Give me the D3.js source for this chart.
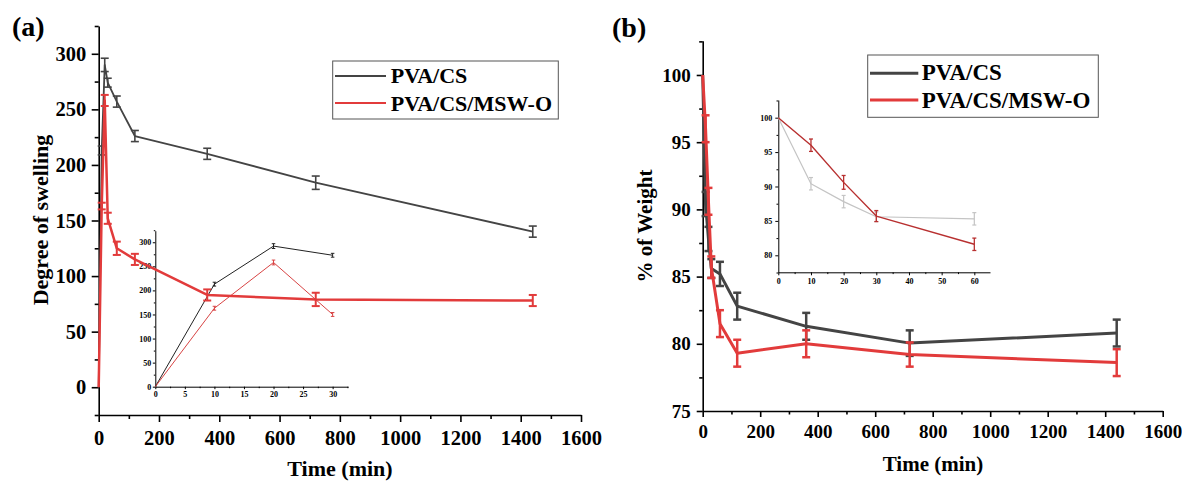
<!DOCTYPE html>
<html lang="en">
<head>
<meta charset="UTF-8">
<title>Swelling and weight loss</title>
<script src="https://d3js.org/d3.v7.min.js"></script>
<style>
  body { margin: 0; background: #fff; }
  svg { display: block; font-family: "Liberation Serif", "Times New Roman", serif; font-weight: bold; }
  .axis path, .axis line { stroke: #000; }
  .axis text { fill: #000; font-family: "Liberation Serif", serif; font-weight: bold; }
</style>
</head>
<body>
<svg width="1182" height="481"></svg>
<script>
// sampling times (min)
const timeMain = [0, 10, 20, 30, 60, 120, 360, 720, 1440];
const timeInsetA = [0, 10, 20, 30];
const timeInsetB = [0, 10, 20, 30, 60];

const seriesNames = ["PVA/CS", "PVA/CS/MSW-O"];

// (a) degree of swelling
const swellPvaCs = [0, 213, 290, 274, 257, 226, 210, 184, 140];
const swellPvaCsErr = [0, 4, 6, 4, 5, 5, 5, 6, 5];
const swellMsw = [0, 163, 258, 152, 125, 115, 83, 79, 78];
const swellMswErr = [0, 3, 5, 5, 6, 5, 5, 6, 5];
const insetSwellPvaCs = [0, 213, 292, 273];
const insetSwellPvaCsErr = [0, 4, 5, 4];
const insetSwellMsw = [0, 163, 258, 150];
const insetSwellMswErr = [0, 4, 5, 4];

// (b) % of weight
const weightPvaCs = [100, 90.4, 87.8, 85.6, 85.2, 82.8, 81.3, 80.05, 80.8];
const weightPvaCsErr = [0, 0.9, 0.9, 0.7, 0.9, 1, 1, 0.95, 1];
const weightMsw = [100, 96, 90.6, 85.7, 81.5, 79.3, 80.0, 79.2, 78.6];
const weightMswErr = [0, 1, 1, 0.8, 1, 1, 1, 0.9, 1];
const insetWeightPvaCs = [100, 90.4, 87.8, 85.6, 85.3];
const insetWeightPvaCsErr = [0, 0.9, 0.9, 0.7, 0.9];
const insetWeightMsw = [100, 96, 90.6, 85.7, 81.6];
const insetWeightMswErr = [0, 0.9, 1, 0.8, 0.9];

// tick values
const timeTicks = d3.range(0, 1601, 200);
const timeMinor = d3.range(100, 1600, 200);
const swellTicks = d3.range(0, 301, 50);
const swellMinor = [-25, 25, 75, 125, 175, 225, 275, 325];
const insetATimeTicks = d3.range(0, 31, 5);
const insetATimeMinor = d3.range(2.5, 33, 5);
const weightTicks = [75, 80, 85, 90, 95, 100];
const weightMinor = [77.5, 82.5, 87.5, 92.5, 97.5, 102.5];
const insetBTimeTicks = d3.range(0, 61, 10);
const insetBTimeMinor = d3.range(5, 60, 10);
const insetBWeightTicks = [80, 85, 90, 95, 100];
const insetBWeightMinor = [77.5, 82.5, 87.5, 92.5, 97.5, 102.5];

const dark = "#444";
const red = "#e23b3b";

const svg = d3.select("svg");
svg.append("rect").attr("width", 1182).attr("height", 481).attr("fill", "#fff");

function zip(ts, vs, es) {
    return ts.map((t, i) => ({ t: t, v: vs[i], e: es[i] }));
}

function drawAxes(x, y, o) {
    const x0 = x.range()[0], y0 = y.range()[0];
    const gx = svg.append("g").attr("class", "axis")
        .attr("transform", `translate(0,${y0})`)
        .call(d3.axisBottom(x).tickValues(o.xTicks).tickSize(o.major).tickSizeOuter(0)
            .tickPadding(o.xPad).tickFormat(d3.format("d")));
    gx.selectAll("text").style("font-size", o.font + "px");
    const gxm = svg.append("g").attr("class", "axis")
        .attr("transform", `translate(0,${y0})`)
        .call(d3.axisBottom(x).tickValues(o.xMinor).tickSize(o.minor).tickFormat(""));
    gxm.select(".domain").remove();

    const gy = svg.append("g").attr("class", "axis")
        .attr("transform", `translate(${x0},0)`)
        .call(d3.axisLeft(y).tickValues(o.yTicks).tickSize(o.major).tickSizeOuter(0)
            .tickPadding(o.yPad).tickFormat(d3.format("d")));
    gy.selectAll("text").style("font-size", o.font + "px");
    const gym = svg.append("g").attr("class", "axis")
        .attr("transform", `translate(${x0},0)`)
        .call(d3.axisLeft(y).tickValues(o.yMinor).tickSize(o.minor).tickFormat(""));
    gym.select(".domain").remove();

    [gx, gxm, gy, gym].forEach(g => g.selectAll("path, line").attr("stroke-width", o.stroke));
}

function drawSeries(x, y, pts, color, lw, capW, capLw) {
    svg.append("path")
        .datum(pts)
        .attr("fill", "none")
        .attr("stroke", color)
        .attr("stroke-width", lw)
        .attr("stroke-linejoin", "round")
        .attr("d", d3.line().x(d => x(d.t)).y(d => y(d.v)));
    const eb = svg.append("g").attr("stroke", color).attr("stroke-width", capLw);
    pts.filter(d => d.e > 0).forEach(d => {
        const cx = x(d.t);
        eb.append("line").attr("x1", cx).attr("x2", cx).attr("y1", y(d.v - d.e)).attr("y2", y(d.v + d.e));
        eb.append("line").attr("x1", cx - capW / 2).attr("x2", cx + capW / 2).attr("y1", y(d.v - d.e)).attr("y2", y(d.v - d.e));
        eb.append("line").attr("x1", cx - capW / 2).attr("x2", cx + capW / 2).attr("y1", y(d.v + d.e)).attr("y2", y(d.v + d.e));
    });
}

function drawLegend(bx, by, bw, bh, rows, colors, lx1, lx2, tx, lw, fs) {
    svg.append("rect").attr("x", bx).attr("y", by).attr("width", bw).attr("height", bh)
        .attr("fill", "#fff").attr("stroke", "#555").attr("stroke-width", 1);
    rows.forEach((r, i) => {
        svg.append("line").attr("x1", lx1).attr("x2", lx2).attr("y1", r.ly).attr("y2", r.ly)
            .attr("stroke", colors[i]).attr("stroke-width", lw);
        svg.append("text").attr("x", tx).attr("y", r.base).style("font-size", fs + "px")
            .text(seriesNames[i]);
    });
}

// ---------- panel (a) ----------
const xA = d3.scaleLinear().domain([0, 1600]).range([98.7, 581]);
const yA = d3.scaleLinear().domain([-25, 325]).range([415, 26]);
const xAi = d3.scaleLinear().domain([0, 32.6]).range([155.3, 348]);
const yAi = d3.scaleLinear().domain([0, 324]).range([386.7, 230.7]);

drawAxes(xAi, yAi, { xTicks: insetATimeTicks, xMinor: insetATimeMinor, yTicks: swellTicks, yMinor: swellMinor.filter(v => v > 0),
    major: 2.5, minor: 1.5, font: 8, xPad: 2, yPad: 1.5, stroke: 1 });
drawSeries(xAi, yAi, zip(timeInsetA, insetSwellPvaCs, insetSwellPvaCsErr), "#222", 1, 3.5, 1);
drawSeries(xAi, yAi, zip(timeInsetA, insetSwellMsw, insetSwellMswErr), "#d84444", 1, 3.5, 1);

drawAxes(xA, yA, { xTicks: timeTicks, xMinor: timeMinor, yTicks: swellTicks, yMinor: swellMinor,
    major: 7, minor: 4, font: 20.5, xPad: 8, yPad: 5.5, stroke: 1.6 });
drawSeries(xA, yA, zip(timeMain, swellPvaCs, swellPvaCsErr), dark, 1.8, 8, 1.6);
drawSeries(xA, yA, zip(timeMain, swellMsw, swellMswErr), red, 2.5, 8, 2);

drawLegend(332.7, 61, 225.6, 58, [{ ly: 76, base: 83.3 }, { ly: 103, base: 111 }], [dark, red],
    335, 386, 390.7, 2, 22);

svg.append("text").attr("x", 12).attr("y", 35.5).style("font-size", "28px").text("(a)");
svg.append("text").attr("transform", "translate(48,220) rotate(-90)").attr("text-anchor", "middle")
    .style("font-size", "22px").text("Degree of swelling");
svg.append("text").attr("x", 340).attr("y", 476).attr("text-anchor", "middle")
    .style("font-size", "22px").text("Time (min)");

// ---------- panel (b) ----------
const xB = d3.scaleLinear().domain([0, 1600]).range([702.7, 1162.7]);
const yB = d3.scaleLinear().domain([75, 102.55]).range([411, 40.7]);
const xBi = d3.scaleLinear().domain([0, 64.8]).range([778.3, 990]);
const yBi = d3.scaleLinear().domain([77.53, 102.57]).range([272.3, 100]);

drawAxes(xBi, yBi, { xTicks: insetBTimeTicks, xMinor: insetBTimeMinor, yTicks: insetBWeightTicks, yMinor: insetBWeightMinor,
    major: 3, minor: 1.8, font: 8, xPad: 3, yPad: 3, stroke: 1 });
drawSeries(xBi, yBi, zip(timeInsetB, insetWeightPvaCs, insetWeightPvaCsErr), "#c4c4c4", 1.2, 4, 1.2);
drawSeries(xBi, yBi, zip(timeInsetB, insetWeightMsw, insetWeightMswErr), "#b83030", 1.4, 4, 1.3);

drawAxes(xB, yB, { xTicks: timeTicks, xMinor: timeMinor, yTicks: weightTicks, yMinor: weightMinor,
    major: 6, minor: 3.5, font: 19, xPad: 8, yPad: 6, stroke: 1.6 });
drawSeries(xB, yB, zip(timeMain, weightPvaCs, weightPvaCsErr), dark, 3, 8, 2.5);
drawSeries(xB, yB, zip(timeMain, weightMsw, weightMswErr), red, 3, 8, 2.5);

drawLegend(867.7, 55, 230.6, 62.3, [{ ly: 73.3, base: 79.5 }, { ly: 100, base: 108 }], [dark, red],
    870, 918.3, 921.7, 3, 23);

svg.append("text").attr("x", 612).attr("y", 37).style("font-size", "28px").text("(b)");
svg.append("text").attr("transform", "translate(652,226) rotate(-90)").attr("text-anchor", "middle")
    .style("font-size", "21px").text("% of Weight");
svg.append("text").attr("x", 933).attr("y", 471).attr("text-anchor", "middle")
    .style("font-size", "21px").text("Time (min)");
</script>
</body>
</html>
